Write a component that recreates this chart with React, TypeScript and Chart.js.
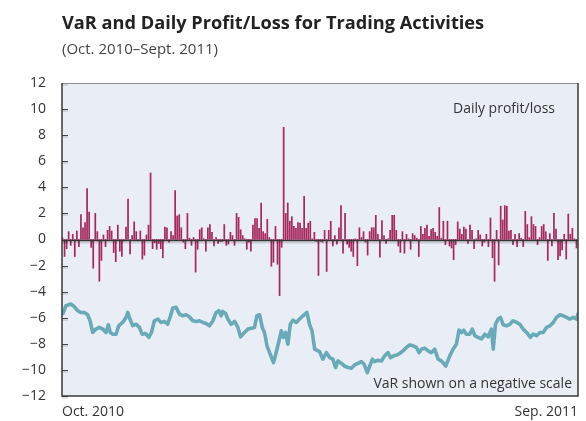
import React, { useEffect, useRef } from "react";
import { Chart, registerables } from "chart.js";

Chart.register(...registerables);

// Daily profit/loss (bars), one per trading day, Oct. 2010 – Sep. 2011
const plValues: number[] = [
  0.1, -1.3, -0.7, 0.6, -0.45, 0.4, -1.3, 0.65, -0.55, 1.9,
  0.9, 1.3, 3.9, 2.1, -0.6, -2.2, 2.0, 0.6, -3.2, -1.6,
  0.35, -0.55, 0.7, 1.0, 0.65, -1.0, -1.7, 1.1, -0.9, -1.3,
  -0.1, 0.95, 3.1, -1.1, 0.3, 1.35, 0.6, -0.1, 0.65, -1.5,
  -1.2, 0.35, 1.1, 5.1, -0.7, -0.25, -0.75, -0.3, -0.7, -1.4,
  0.95, 0.9, -0.2, 0.6, 0.3, 3.75, 1.8, 1.9, 0.9, -0.2,
  -0.7, 2.0,
  0.1, -0.45, 0.15, -2.5, -0.75, 0.75, 0.9, 0.05, -0.9, 0.9,
  1.15, 0.55, -0.5, 0.15, -0.3, -0.15, -0.15, 1.15, -0.45, -0.35,
  0.55, 0.3, -0.45, 2.0, 1.7, 0.75, 0.3, 0.05, -0.75, -0.2,
  -0.9, 1.1, 1.6, 1.6, 0.85, 2.8, 0.6, 0.45, 1.55, 0.15,
  -2.05, -1.75, 1.0, -1.9, -4.3, -0.6, 8.6, 2.0, 2.8, 1.4,
  1.75, 1.0, 0.85, 1.3, 1.25, 0.85, 3.3, 0.85, 1.25, 1.4,
  0.05, 0.55, -0.15, -2.75, -0.15, -0.2, 0.7, -2.45, 0.7, 1.4,
  -0.5, 0.3, -0.35, 0.9, 2.6, -1.05, 2.0, -0.35, -0.6, -0.9,
  -1.3, 0.05, -2.0, 0.9, 0.15, 0.6, -0.2, -1.2, 0.6, 0.9,
  0.9, 1.85, 0.4, -1.35, 1.45, 0.3, -0.3, 0.05, 0.7, 1.85,
  1.85, 0.7, -0.5, -1.0, 0.6, -1.05, 0.4, 0.05, -0.75, 0.45,
  0.3, 0.1, -1.3, 1.0, 0.4, 0.85, 1.1, 0.25, 0.75, 0.85,
  0.55, 0.25, 2.45, 0.1, 1.4, -0.4,
  1.4, -0.5, -0.65, -1.55, -0.4, 1.35, 0.8, 0.4, 0.95, 0.8,
  -0.3, 1.1, 0.7, -0.7, 0.05, 0.7, 0.35, -0.5, -0.2, 0.4,
  -0.55, 1.65, -1.4, -3.2, 0.7, -1.95, 2.55, 1.5, 2.6, 2.55,
  0.65, 0.7, -0.4, 0.4, -0.55, 0.45, 0.1, -0.55, 2.15, 1.15,
  0.15, 1.75, 1.15, 1.0, -0.4, 0.15, 1.0, 1.15, 0.6, -1.6,
  0.45, -0.5, 2.0, 0.8, -1.55, -1.25, -0.8, 0.4, -1.5, 1.95,
  0.4, 0.85, 0.05, -0.65,
];

// VaR (shown on a negative scale): trading-day position and value
const varDays: number[] = [
  0, 1.4, 3.9, 5.5, 7.1, 8.8, 10.4, 12.0, 13.2, 14.5,
  16.1, 17.7, 19.4, 21.0, 22.1, 23.1, 24.3, 25.9, 27.2, 29.1,
  30.8, 31.6, 32.7, 34.0, 35.7, 37.3, 38.6, 40.2, 41.9, 43.2,
  44.6, 46.3, 47.9, 49.5, 51.1, 52.5, 53.6, 55.2, 56.9, 58.5,
  60.1, 61.7, 63.4, 65.0, 66.6, 68.3, 69.9, 71.5, 73.2, 74.8,
  76.1, 77.2, 78.0, 79.4, 80.5, 82.1, 83.8, 85.4, 86.7, 88.6,
  90.3, 91.9, 93.5, 94.7, 96.0, 97.3, 98.4, 99.6, 101.2, 102.8,
  104.1, 105.3, 106.6, 107.7, 108.7, 109.8, 111.0, 112.3, 113.9, 115.5,
  117.2, 119.1, 120.4, 121.6, 122.9, 125.3,
  126.9, 128.6, 130.2, 131.8, 133.1, 134.3, 135.9, 137.5, 139.2, 140.8,
  142.4, 144.0, 145.7, 147.0, 148.6, 149.8, 151.1, 152.2, 153.8, 155.5,
  157.1, 158.7, 159.9, 161.5, 163.1, 164.4, 166.0, 167.7, 169.3, 170.9,
  172.6, 173.9, 175.0, 176.6, 178.3, 179.9, 181.5, 183.2, 184.8, 186.9,
  188.9, 190.5, 192.1, 193.4, 194.6, 195.7, 197.0, 198.6, 199.9, 201.1,
  202.7, 204.4, 206.0, 207.6, 209.2, 210.1, 211.2, 212.5, 213.6, 215.0,
  216.6, 218.2, 219.8, 221.5, 223.1, 224.7, 226.4, 228.3, 229.6, 231.2,
  232.9, 234.5, 236.1, 237.8, 239.4, 241.0, 242.7, 244.3, 245.9, 247.5,
  249.2, 250.8, 251.5,
];
const varValues: number[] = [
  -5.67, -5.08, -4.95, -5.15, -5.46, -5.6, -5.6, -5.77, -6.23, -7.13,
  -6.87, -6.74, -6.87, -7.13, -6.54, -7.13, -7.26, -7.26, -6.62, -6.36,
  -5.97, -5.59, -6.1, -6.6, -6.5, -6.74, -7.26, -7.2, -7.5, -7.13,
  -6.23, -6.1, -6.36, -6.28, -6.5, -5.85, -5.26, -5.2, -5.72, -5.85,
  -5.77, -5.92, -6.23, -6.28, -6.23, -6.36, -6.44, -6.62, -6.23, -5.59,
  -5.46, -5.85, -5.51, -5.67, -6.1, -6.5, -6.28, -6.74, -7.46, -7.13,
  -6.87, -6.8, -6.74, -5.85, -5.77, -6.74, -7.13, -8.15, -8.8, -9.44,
  -8.67, -7.9, -7.0, -7.5, -7.13, -8.03, -6.5, -6.18, -6.36, -6.1,
  -5.85, -5.59, -6.5, -7.0, -8.41, -8.6,
  -9.18, -8.67, -9.05, -9.18, -9.82, -9.31, -9.5, -9.7, -9.82, -9.87,
  -9.62, -9.5, -9.36, -9.56, -10.2, -9.7, -9.18, -9.36, -9.26, -9.31,
  -8.92, -8.67, -9.05, -8.92, -8.85, -8.74, -8.54, -8.28, -8.08, -8.15,
  -8.28, -8.67, -8.41, -8.33, -8.54, -8.67, -8.41, -9.18, -9.31, -9.7,
  -8.92, -8.41, -8.03, -6.95, -7.13, -6.95, -7.26, -7.26, -6.87, -7.38,
  -7.5, -7.62, -7.26, -7.46, -6.87, -8.41, -6.5, -6.1, -5.97, -6.54,
  -6.62, -6.5, -6.23, -6.36, -6.5, -6.87, -7.13, -7.5, -7.26, -7.38,
  -7.13, -7.13, -6.74, -6.62, -6.36, -5.97, -5.77, -5.85, -5.97, -6.1,
  -5.97, -6.1, -5.7,
];

const xTickLabels: string[] = ["Oct. 2010", "Sep. 2011"];
const yMin = -12;
const yMax = 12;
const yStep = 2;

const TITLE = "VaR and Daily Profit/Loss for Trading Activities";
const SUBTITLE = "(Oct. 2010\u2013Sept. 2011)";
const NOTE_PL = "Daily profit/loss";
const NOTE_VAR = "VaR shown on a negative scale";

const FONT = "'Open Sans', 'Noto Sans', sans-serif";
const BAR_COLOR = "#a6285e";
const LINE_COLOR = "#69aab8";
const PLOT_BG = "#e9eef6";
const TEXT = "#333333";

const decorPlugin = {
  id: "decor",
  beforeDatasetsDraw(chart: any) {
    const { ctx, chartArea: a } = chart;
    ctx.save();
    ctx.fillStyle = PLOT_BG;
    ctx.fillRect(a.left, a.top, a.right - a.left, a.bottom - a.top);
    ctx.restore();
  },
  afterDatasetsDraw(chart: any) {
    const { ctx, chartArea: a, scales } = chart;
    const y = scales.y;
    ctx.save();
    // inner tick marks with soft shadow
    y.ticks.forEach((t: any) => {
      const py = Math.round(y.getPixelForValue(t.value)) + 0.5;
      ctx.strokeStyle = "rgba(0,0,0,0.15)";
      ctx.lineWidth = 1.5;
      ctx.beginPath();
      ctx.moveTo(a.left, py + 1.5);
      ctx.lineTo(a.left + 6, py + 1.5);
      ctx.stroke();
      ctx.strokeStyle = "#444";
      ctx.lineWidth = 1;
      ctx.beginPath();
      ctx.moveTo(a.left, py);
      ctx.lineTo(a.left + 6, py);
      ctx.stroke();
    });
    // zero line
    const y0 = Math.round(y.getPixelForValue(0)) + 0.5;
    ctx.strokeStyle = "rgba(0,0,0,0.14)";
    ctx.lineWidth = 2;
    ctx.beginPath();
    ctx.moveTo(a.left, y0 + 2);
    ctx.lineTo(a.right, y0 + 2);
    ctx.stroke();
    ctx.strokeStyle = "#333";
    ctx.lineWidth = 1.5;
    ctx.beginPath();
    ctx.moveTo(a.left, y0);
    ctx.lineTo(a.right, y0);
    ctx.stroke();
    // frame
    ctx.strokeStyle = "#8a8d92";
    ctx.lineWidth = 1;
    ctx.beginPath();
    ctx.moveTo(a.left, a.top + 0.5);
    ctx.lineTo(a.right, a.top + 0.5);
    ctx.stroke();
    ctx.strokeStyle = "#3a3a3a";
    ctx.lineWidth = 1.5;
    ctx.beginPath();
    ctx.moveTo(a.left, a.top);
    ctx.lineTo(a.left, a.bottom);
    ctx.lineTo(a.right, a.bottom);
    ctx.lineTo(a.right, a.top);
    ctx.stroke();
    // notes
    ctx.fillStyle = TEXT;
    ctx.font = `14px ${FONT}`;
    ctx.textAlign = "right";
    ctx.textBaseline = "alphabetic";
    ctx.fillText(NOTE_PL, a.right - 23, a.top + 30);
    ctx.fillText(NOTE_VAR, a.right - 6, a.bottom - 8);
    ctx.restore();
  },
};

export default function App() {
  const ref = useRef<HTMLCanvasElement>(null);

  useEffect(() => {
    const n = plValues.length;
    const labels = plValues.map((_, i) => String(i));
    const chart = new Chart(ref.current as HTMLCanvasElement, {
      type: "bar",
      data: {
        labels,
        datasets: [
          {
            type: "bar",
            data: plValues,
            backgroundColor: BAR_COLOR,
            borderWidth: 0,
            barPercentage: 1,
            categoryPercentage: 1,
            inflateAmount: 0.35,
            xAxisID: "x",
            yAxisID: "y",
            order: 2,
          } as any,
          {
            type: "line",
            data: varDays.map((d, i) => ({ x: d, y: varValues[i] })),
            borderColor: LINE_COLOR,
            borderWidth: 3.6,
            pointRadius: 0,
            tension: 0,
            borderJoinStyle: "round",
            borderCapStyle: "round",
            xAxisID: "x2",
            yAxisID: "y",
            order: 1,
          } as any,
        ],
      },
      options: {
        responsive: false,
        animation: false,
        devicePixelRatio: 1,
        layout: { padding: { top: 83, right: 8, bottom: 0, left: 0 } },
        plugins: {
          legend: { display: false },
          tooltip: { enabled: false },
          title: { display: false },
        },
        scales: {
          x: {
            type: "category",
            display: false,
            offset: true,
          },
          x2: {
            type: "linear",
            position: "bottom",
            offset: false,
            min: -0.5,
            max: n - 0.5,
            grid: { display: false, offset: false },
            border: { display: false },
            afterBuildTicks: (s: any) => {
              s.ticks = [{ value: s.min }, { value: s.max }];
            },
            afterFit: (s: any) => {
              s.height = 25;
            },
            ticks: {
              align: "inner",
              autoSkip: false,
              maxRotation: 0,
              padding: 0,
              color: TEXT,
              font: { family: FONT, size: 14 },
              callback: (_v: any, i: number) => xTickLabels[i] ?? "",
            },
          } as any,
          y: {
            min: yMin,
            max: yMax,
            grid: { display: false },
            border: { display: false },
            afterFit: (s: any) => {
              s.width = 62;
            },
            ticks: {
              stepSize: yStep,
              padding: 8,
              color: TEXT,
              font: { family: FONT, size: 14 },
              callback: (v: any) =>
                Number(v) < 0 ? "\u2212" + Math.abs(Number(v)) : String(v),
            },
          } as any,
        },
      },
      plugins: [decorPlugin],
    });
    return () => chart.destroy();
  }, []);

  return (
    <div
      style={{
        position: "absolute",
        left: 0,
        top: 0,
        width: 586,
        height: 421,
        background: "#ffffff",
        overflow: "hidden",
      }}
    >
      <canvas
        ref={ref}
        width={586}
        height={421}
        style={{ position: "absolute", left: 0, top: 0, display: "block" }}
      />
      <div
        style={{
          position: "absolute",
          left: 62,
          top: 13,
          fontFamily: FONT,
          fontWeight: 700,
          fontSize: 18.2,
          lineHeight: "18px",
          color: "#222",
          whiteSpace: "nowrap",
        }}
      >
        {TITLE}
      </div>
      <div
        style={{
          position: "absolute",
          left: 62,
          top: 41,
          fontFamily: FONT,
          fontSize: 15,
          lineHeight: "15px",
          color: "#444",
          whiteSpace: "nowrap",
        }}
      >
        {SUBTITLE}
      </div>
    </div>
  );
}
